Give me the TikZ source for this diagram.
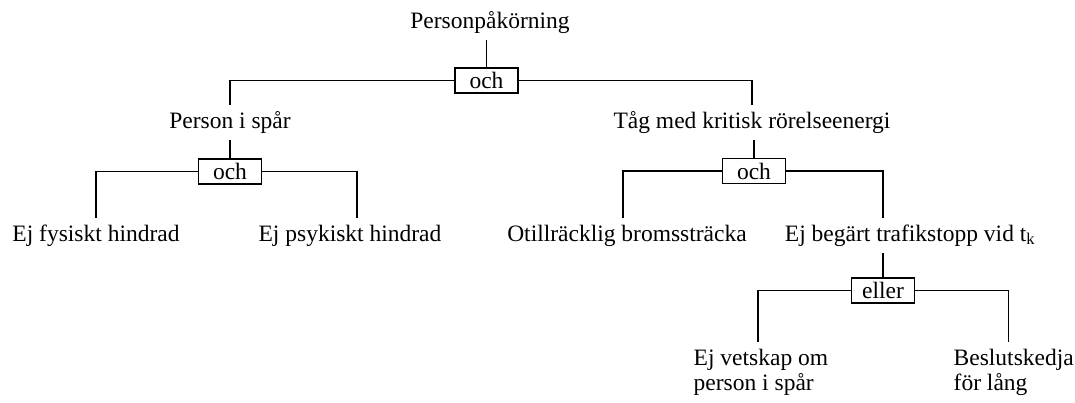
\documentclass[tikz,border=0pt]{standalone}
\usepackage{fontspec}
\setmainfont{Liberation Serif}
\begin{document}
\begin{tikzpicture}[x=1pt,y=-1pt,
  font=\fontsize{23.5}{25}\selectfont,
  line width=1.4pt,
  event/.style={anchor=base,inner sep=6pt,text height=16pt,text depth=5pt},
  leaf/.style={anchor=base west,align=left,inner sep=0pt},
  gate/.style={draw,line width=1.4pt,minimum width=63pt,minimum height=25pt,inner sep=0pt,fill=white}]
\useasboundingbox (0,0) rectangle (1075,402);

% events
\node[event] (top) at (490,28) {Personpåkörning};
\node[event] (psp) at (230,128) {Person i spår};
\node[event] (tag) at (752,128) {Tåg med kritisk rörelseenergi};
\node[event] (fys) at (96,241) {Ej fysiskt hindrad};
\node[event] (psy) at (350,241) {Ej psykiskt hindrad};
\node[event] (oti) at (627,241) {Otillräcklig bromssträcka};
\node[event] (beg) at (910,241) {Ej begärt trafikstopp vid t\textsubscript{k}};
% two-line leaves: the base anchor sits on the last line
\node[leaf] (vet) at (693,390) {Ej vetskap om\\person i spår};
\node[leaf] (bes) at (953,390) {Beslutskedja\\för lång};

% gates
\node[gate] (g0) at (486.5,80.5) {och};
\node[gate] (g1) at (230,171.5) {och};
\node[gate] (g2) at (754,171) {och};
\node[gate] (g3) at (883,290.5) {eller};

% connectors
\draw (g0.north) -- (g0.north |- top.south);
\draw (g0.west) -| (psp.north);
\draw (g0.east) -| (tag.north);

\draw (g1.north) -- (g1.north |- psp.south);
\draw (g1.west) -| (fys.north);
\draw (g1.east) -| ([xshift=7pt]psy.north);

\draw (g2.north) -- (g2.north |- tag.south);
\draw (g2.west) -| ([xshift=-4pt]oti.north);
\draw (g2.east) -| (g3.north |- beg.north);

\draw (g3.north) -- (g3.north |- beg.south);
\draw (g3.west) -| ([xshift=-3pt,yshift=6pt]vet.north);
\draw (g3.east) -| ([xshift=-5pt,yshift=6pt]bes.north);
\end{tikzpicture}
\end{document}
